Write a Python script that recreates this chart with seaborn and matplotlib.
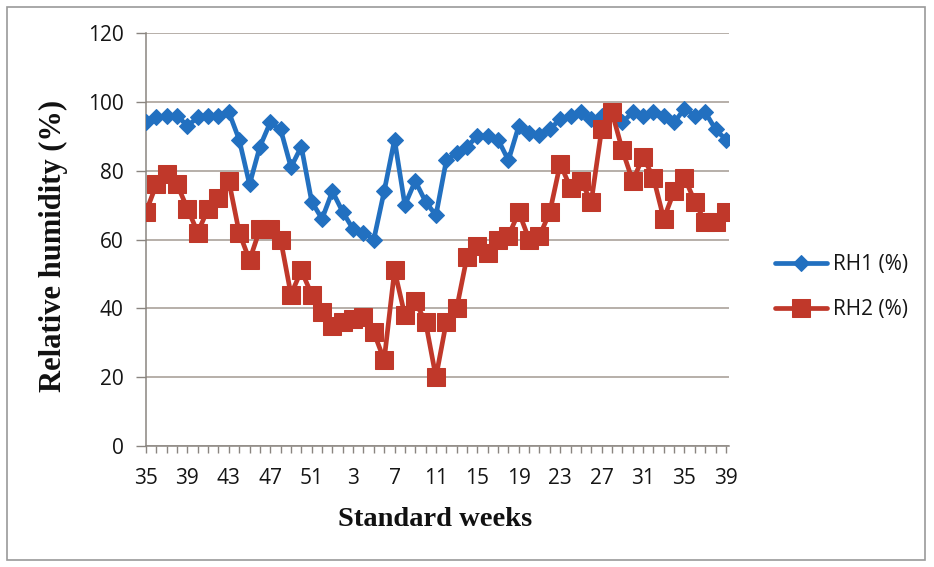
import matplotlib
matplotlib.use("Agg")
import matplotlib.pyplot as plt
from matplotlib.patches import Rectangle
import seaborn as sns
import pandas as pd

# Standard meteorological weeks: 35-52 of the first year, then 1-39 of the next
weeks = list(range(35, 53)) + list(range(1, 40))

rh1 = [94, 95.5, 96, 96, 93, 95.5, 96, 96, 97, 89,
       76, 87, 94, 92, 81, 87, 71, 66, 74, 68,
       63, 62, 60, 74, 89, 70, 77, 71, 67, 83,
       85, 87, 90, 90, 89, 83, 93, 91, 90.5, 92,
       95, 96, 97, 95, 96, 97, 94, 97, 96, 97,
       96, 94, 98, 96, 97, 92, 89]

rh2 = [68, 76, 79, 76, 69, 62, 69, 72, 77, 62,
       54, 63, 63, 60, 44, 51, 44, 39, 35, 36,
       37, 37.5, 33, 25, 51, 38, 42, 36, 20, 36,
       40, 55, 58, 56, 60, 61, 68, 60, 61, 68,
       82, 75, 77, 71, 92, 97, 86, 77, 84, 78,
       66, 74, 78, 71, 65, 65, 68]

series_names = ["RH1 (%)", "RH2 (%)"]
y_ticks = [0, 20, 40, 60, 80, 100, 120]

idx = list(range(len(weeks)))
df = pd.DataFrame({
    "idx": idx * 2,
    "value": rh1 + rh2,
    "series": [series_names[0]] * len(idx) + [series_names[1]] * len(idx),
})

sns.set_style("white")
plt.rcParams["font.family"] = ["Open Sans", "DejaVu Sans"]

W, H = 934, 567
fig = plt.figure(figsize=(W / 100, H / 100), dpi=100)
ax = fig.add_axes([146 / W, 1 - 446 / H, (729 - 146) / W, (446 - 33) / H])

blue = "#2270C0"
red = "#C0382A"
grid_c = "#a39a92"
axis_c = "#8a8580"
text_c = "#151515"

ax.set_axisbelow(True)
for v in y_ticks:
    ax.axhline(v, color=grid_c, lw=1.1, zorder=0)

sns.lineplot(data=df[df.series == series_names[0]], x="idx", y="value",
             color=blue, marker="D", markersize=8.5, markeredgecolor=blue,
             linewidth=3.4, ax=ax, label=series_names[0], zorder=3)
sns.lineplot(data=df[df.series == series_names[1]], x="idx", y="value",
             color=red, marker="s", markersize=12.5, markeredgecolor=red,
             linewidth=3.4, ax=ax, label=series_names[1], zorder=4)

ax.set_xlim(0, len(weeks) - 1 + 0.3)
ax.set_ylim(0, 120)
ax.set_yticks(y_ticks)
ax.set_yticklabels([str(v) for v in y_ticks], fontsize=15, color=text_c)
ax.set_xticks(idx)
ax.set_xticklabels([str(w) if i % 4 == 0 else "" for i, w in enumerate(weeks)],
                   fontsize=15, color=text_c)

for side in ["top", "right"]:
    ax.spines[side].set_visible(False)
for side in ["left", "bottom"]:
    ax.spines[side].set_color(axis_c)
    ax.spines[side].set_linewidth(1.1)

ax.tick_params(axis="x", direction="out", length=5, width=1, color=axis_c, pad=11, bottom=True)
ax.tick_params(axis="y", direction="out", length=7, width=1, color=axis_c, pad=9, left=True)

serif = ["Liberation Serif", "DejaVu Serif"]
ax.set_xlabel("Standard weeks", family=serif, fontweight="bold", fontsize=20.5, color="#111111")
ax.set_ylabel("Relative humidity (%)", family=serif, fontweight="bold", fontsize=22, color="#111111")
ax.xaxis.set_label_coords(0.496, -0.148)
ax.yaxis.set_label_coords(-0.133, 0.485)

leg = ax.legend(loc="center left", bbox_to_anchor=(775 / W, 1 - 287 / H),
                bbox_transform=fig.transFigure, frameon=False, fontsize=15,
                handlelength=2.5, handletextpad=0.3, labelspacing=1.15,
                borderpad=0, borderaxespad=0)
for t in leg.get_texts():
    t.set_color(text_c)

# chart-area frame
fig.patches.append(Rectangle((7 / W, 1 - 560 / H), (925 - 7) / W, (560 - 7) / H,
                             transform=fig.transFigure, fill=False,
                             edgecolor="#9a9a9a", linewidth=1.2))

fig.savefig("out.png", dpi=100, facecolor="white")
